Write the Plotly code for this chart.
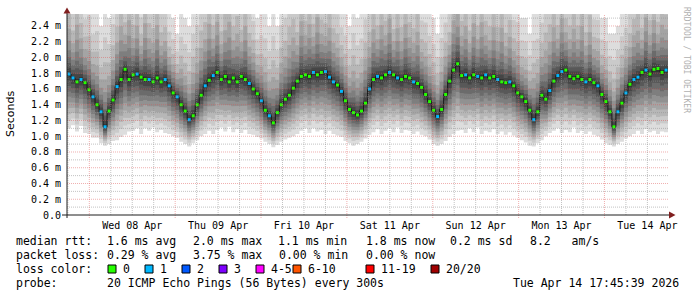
import plotly.graph_objects as go
from datetime import datetime, timedelta

# ---------------- data ----------------
END_TIME = datetime(2026, 4, 14, 17, 45, 39)
START_TIME = END_TIME - timedelta(days=7)

# median RTT per sample (ms), evenly spaced over the 7-day window
MEDIAN = [
    1.79, 1.74, 1.69, 1.72, 1.68, 1.59, 1.50, 1.40, 1.31, 1.12,
    1.32, 1.46, 1.63, 1.72, 1.85, 1.72, 1.78, 1.79, 1.75, 1.72,
    1.72, 1.69, 1.74, 1.69, 1.72, 1.64, 1.55, 1.50, 1.40, 1.32,
    1.21, 1.26, 1.40, 1.52, 1.64, 1.71, 1.77, 1.81, 1.72, 1.76,
    1.69, 1.74, 1.69, 1.76, 1.72, 1.67, 1.60, 1.54, 1.45, 1.33,
    1.26, 1.17, 1.30, 1.40, 1.47, 1.52, 1.61, 1.70, 1.76, 1.78,
    1.76, 1.81, 1.78, 1.81, 1.82, 1.75, 1.69, 1.65, 1.57, 1.45,
    1.34, 1.30, 1.27, 1.32, 1.42, 1.60, 1.72, 1.76, 1.74, 1.78,
    1.81, 1.78, 1.74, 1.72, 1.76, 1.74, 1.69, 1.67, 1.62, 1.53,
    1.44, 1.33, 1.25, 1.34, 1.53, 1.70, 1.84, 1.92, 1.77, 1.78,
    1.74, 1.78, 1.76, 1.74, 1.78, 1.74, 1.76, 1.72, 1.69, 1.68,
    1.69, 1.64, 1.55, 1.50, 1.44, 1.33, 1.21, 1.31, 1.52, 1.47,
    1.58, 1.70, 1.77, 1.82, 1.84, 1.76, 1.73, 1.76, 1.72, 1.69,
    1.72, 1.68, 1.64, 1.53, 1.44, 1.31, 1.12, 1.31, 1.42, 1.55,
    1.66, 1.72, 1.75, 1.81, 1.84, 1.79, 1.85, 1.86, 1.81, 1.84,
]

# lowest ping per sample (ms)
LOWEST = [
    1.10, 1.14, 1.06, 1.13, 1.04, 1.03, 0.98, 0.98, 0.91, 0.88,
    0.90, 0.94, 0.95, 0.99, 1.02, 1.06, 1.07, 1.10, 1.03, 1.10,
    1.07, 1.11, 1.05, 1.08, 1.04, 1.03, 1.00, 0.98, 0.93, 0.90,
    0.87, 0.91, 0.95, 1.00, 1.03, 1.07, 1.03, 1.08, 1.11, 1.06,
    1.12, 1.05, 1.09, 1.04, 1.08, 1.03, 1.02, 0.99, 0.97, 0.93,
    0.90, 0.86, 0.89, 0.93, 0.96, 0.98, 1.00, 1.03, 1.07, 1.10,
    1.04, 1.10, 1.06, 1.08, 1.03, 1.07, 1.03, 1.01, 0.99, 0.94,
    0.91, 0.88, 0.90, 0.93, 0.97, 1.02, 1.05, 1.09, 1.03, 1.07,
    1.10, 1.05, 1.11, 1.04, 1.08, 1.07, 1.03, 1.06, 1.02, 1.00,
    0.96, 0.90, 0.88, 0.90, 0.94, 0.99, 1.03, 1.07, 1.08, 1.04,
    1.10, 1.05, 1.11, 1.03, 1.07, 1.05, 1.09, 1.03, 1.06, 1.02,
    1.05, 1.01, 0.98, 0.95, 0.92, 0.88, 0.87, 0.91, 0.95, 1.00,
    1.04, 1.07, 1.10, 1.04, 1.08, 1.05, 1.11, 1.04, 1.07, 1.03,
    1.06, 1.02, 1.00, 0.96, 0.91, 0.89, 0.87, 0.90, 0.93, 0.97,
    1.00, 1.03, 1.07, 1.03, 1.09, 1.05, 1.07, 1.03, 1.06, 1.05,
]

# highest ping per sample (ms), mostly beyond the top of the graph
HIGHEST = [
    3.3, 2.9, 3.6, 3.1, 2.8, 2.9, 2.6, 2.7, 2.4, 2.7,
    2.5, 2.8, 3.1, 3.5, 3.0, 3.7, 3.0, 3.4, 2.8, 3.6,
    3.1, 3.0, 3.5, 2.9, 3.0, 2.6, 2.5, 2.3, 2.6, 2.5,
    2.4, 2.7, 2.8, 3.1, 3.2, 3.6, 3.0, 3.5, 2.9, 3.3,
    3.7, 3.0, 3.3, 2.9, 3.5, 2.9, 2.8, 2.5, 2.6, 2.6,
    2.4, 2.7, 2.4, 2.8, 2.9, 3.2, 3.3, 2.9, 3.6, 3.1,
    3.5, 3.0, 3.7, 3.1, 3.0, 3.4, 3.0, 2.9, 2.7, 2.6,
    2.4, 2.7, 2.5, 2.6, 2.9, 3.0, 3.4, 3.0, 3.5, 3.1,
    3.6, 2.9, 3.4, 3.0, 3.5, 3.1, 3.0, 3.4, 2.8, 2.8,
    2.6, 2.5, 2.3, 2.6, 2.8, 2.9, 3.5, 3.6, 3.1, 3.4,
    2.9, 3.5, 3.0, 3.6, 3.1, 3.0, 3.4, 3.0, 3.5, 2.9,
    3.2, 2.8, 2.8, 2.5, 2.5, 2.3, 2.6, 2.6, 2.8, 3.1,
    3.2, 3.5, 3.0, 3.6, 3.1, 3.0, 3.4, 3.0, 3.5, 2.9,
    3.3, 2.8, 2.8, 2.5, 2.5, 2.3, 2.3, 2.4, 2.6, 2.7,
    2.9, 3.2, 3.3, 2.9, 3.6, 3.1, 3.5, 3.0, 3.4, 3.2,
]

# lost pings per sample (out of 20)
LOSS = [
    1, 1, 0, 1, 0, 0, 1, 0, 1, 1,
    0, 0, 1, 0, 0, 0, 0, 1, 0, 0,
    1, 0, 0, 0, 1, 1, 0, 1, 0, 0,
    1, 0, 0, 0, 1, 0, 1, 0, 0, 0,
    0, 0, 0, 0, 0, 1, 0, 0, 1, 0,
    1, 0, 0, 0, 0, 0, 0, 0, 0, 0,
    0, 1, 0, 0, 1, 1, 1, 0, 1, 0,
    0, 0, 0, 0, 0, 1, 0, 1, 0, 0,
    1, 0, 1, 0, 0, 0, 1, 0, 0, 0,
    0, 0, 1, 0, 0, 0, 0, 0, 0, 1,
    0, 0, 1, 0, 1, 0, 0, 1, 0, 0,
    1, 0, 0, 0, 0, 0, 1, 0, 0, 0,
    1, 0, 1, 1, 0, 0, 0, 0, 0, 1,
    0, 0, 1, 0, 0, 0, 0, 1, 0, 1,
    0, 1, 1, 0, 1, 0, 0, 0, 0, 1,
]

Y_TICKS = [0.0, 0.2, 0.4, 0.6, 0.8, 1.0, 1.2, 1.4, 1.6, 1.8, 2.0, 2.2, 2.4]
Y_TICK_TEXT = ["0.0", "0.2 m", "0.4 m", "0.6 m", "0.8 m", "1.0 m", "1.2 m",
               "1.4 m", "1.6 m", "1.8 m", "2.0 m", "2.2 m", "2.4 m"]
X_TICK_TEXT = ["Wed 08 Apr", "Thu 09 Apr", "Fri 10 Apr", "Sat 11 Apr",
               "Sun 12 Apr", "Mon 13 Apr", "Tue 14 Apr"]

LEGEND_ROWS = [
    [("median rtt:", 16), ("1.6 ms avg", 107), ("2.0 ms max", 193),
     ("1.1 ms min", 278), ("1.8 ms now", 366), ("0.2 ms sd", 450), ("8.2   am/s", 530)],
    [("packet loss:", 16), ("0.29 % avg", 107), ("3.75 % max", 193),
     ("0.00 % min", 279), ("0.00 % now", 366)],
    [("loss color:", 16)],
    [("probe:", 16), ("20 ICMP Echo Pings (56 Bytes) every 300s", 107),
     ("Tue Apr 14 17:45:39 2026", 513)],
]
LOSS_LEGEND = [("0", "#26ff00"), ("1", "#00b8ff"), ("2", "#0059ff"), ("3", "#7e00ff"),
               ("4-5", "#ff00ff"), ("6-10", "#ff5500"), ("11-19", "#ff0000"), ("20/20", "#a00000")]
LOSS_BOX_X = [108, 145, 182, 219, 256, 293, 366, 431]
LOSS_LABEL_X = [123, 160, 197, 234, 271, 308, 381, 446]

# ---------------- style ----------------
W, H = 697, 297
PL, PR, PT, PB = 67, 668, 14, 215       # plot area in pixels
Y_TOP = 2.552
MONO = "DejaVu Sans Mono"
TXT = 11.5
ANN_SHIFT = -2   # compensate annotation inner padding

# smoke shading profile (SmokePing style: 10 gray layers, dark near the median)
LOW_FRAC = [1.0, 0.86, 0.74, 0.63, 0.52, 0.42, 0.32, 0.22, 0.13, 0.05]
HIGH_FRAC = [1.0, 0.72, 0.52, 0.38, 0.28, 0.20, 0.14, 0.09, 0.05, 0.02]
GRAYS = [int(190 / 10 * (10 - i)) + 50 for i in range(1, 11)]

MINOR_GRID = "rgba(143,143,143,0.55)"
MAJOR_GRID = "rgba(222,79,79,0.45)"


def px(x):
    return (x - PL) / (PR - PL)


def py(y):
    return (PB - y) / (PB - PT)


n = len(MEDIAN)
assert len(LOWEST) == n and len(HIGHEST) == n and len(LOSS) == n
step = (END_TIME - START_TIME) / n
edges = [START_TIME + step * i for i in range(n + 1)]
centers = [START_TIME + step * (i + 0.5) for i in range(n)]

fig = go.Figure()

for k in range(10):
    xs, ys = [], []
    tops = [m + (h - m) * HIGH_FRAC[k] for m, h in zip(MEDIAN, HIGHEST)]
    bots = [m - (m - l) * LOW_FRAC[k] for m, l in zip(MEDIAN, LOWEST)]
    for i in range(n):
        xs += [edges[i], edges[i + 1]]
        ys += [tops[i], tops[i]]
    for i in range(n - 1, -1, -1):
        xs += [edges[i + 1], edges[i]]
        ys += [bots[i], bots[i]]
    g = GRAYS[k]
    fig.add_trace(go.Scatter(
        x=xs, y=ys, mode="lines", fill="toself",
        fillcolor=f"rgb({g},{g},{g})", line=dict(width=0),
        hoverinfo="skip", showlegend=False))

fig.add_trace(go.Scatter(
    x=centers, y=MEDIAN, mode="lines", line_shape="hvh",
    line=dict(color="#1a1a1a", width=1), hoverinfo="skip", showlegend=False))

loss_colors = [LOSS_LEGEND[min(v, 1)][1] for v in LOSS]
fig.add_trace(go.Scatter(
    x=centers, y=MEDIAN, mode="markers",
    marker=dict(symbol="square", size=3, color=loss_colors, line=dict(width=0)),
    showlegend=False))

shapes = []
# horizontal grid
for j in range(1, 26):
    v = j / 10
    if v > Y_TOP:
        break
    shapes.append(dict(
        type="line", xref="paper", yref="y", x0=0, x1=1, y0=v, y1=v, layer="above",
        line=dict(color=MAJOR_GRID if j % 2 == 0 else MINOR_GRID, width=1, dash="1px,1px")))
# vertical grid (6 h minor, midnight major)
t = datetime(2026, 4, 7, 18, 0, 0)
while t < END_TIME:
    major = (t.hour == 0)
    shapes.append(dict(
        type="line", xref="x", yref="paper", x0=t, x1=t,
        y0=py(218) if major else 0, y1=1, layer="above",
        line=dict(color=MAJOR_GRID if major else MINOR_GRID, width=1, dash="1px,1px")))
    t += timedelta(hours=6)

# axes
shapes.append(dict(type="line", xref="paper", yref="paper", x0=px(62), x1=px(672),
                   y0=0, y1=0, line=dict(color="#1f1f1f", width=1), layer="above"))
shapes.append(dict(type="line", xref="paper", yref="paper", x0=0, x1=0,
                   y0=py(218), y1=py(11), line=dict(color="#1f1f1f", width=1), layer="above"))
# arrows
shapes.append(dict(type="path", xref="paper", yref="paper", layer="above",
                   path=f"M {px(63.5)} {py(13.5)} L {px(70.5)} {py(13.5)} L {px(67)} {py(7.5)} Z",
                   fillcolor="#801f1f", line=dict(width=0)))
shapes.append(dict(type="path", xref="paper", yref="paper", layer="above",
                   path=f"M {px(669)} {py(211.5)} L {px(669)} {py(218.5)} L {px(675.5)} {py(215)} Z",
                   fillcolor="#801f1f", line=dict(width=0)))

# loss colour boxes
for (lab, col), bx in zip(LOSS_LEGEND, LOSS_BOX_X):
    shapes.append(dict(type="rect", xref="paper", yref="paper",
                       x0=px(bx), x1=px(bx + 8), y0=py(273), y1=py(265),
                       fillcolor=col, line=dict(color="#000000", width=1)))

annotations = []
row_y = [241, 255, 269, 283]
for row, yy in zip(LEGEND_ROWS, row_y):
    for text, xx in row:
        annotations.append(dict(
            text=text, xref="paper", yref="paper", x=px(xx + ANN_SHIFT), y=py(yy),
            xanchor="left", yanchor="middle", showarrow=False,
            font=dict(family=MONO, size=TXT, color="#000000")))
for (lab, col), lx in zip(LOSS_LEGEND, LOSS_LABEL_X):
    annotations.append(dict(
        text=lab, xref="paper", yref="paper", x=px(lx + ANN_SHIFT), y=py(269),
        xanchor="left", yanchor="middle", showarrow=False,
        font=dict(family=MONO, size=TXT, color="#000000")))
annotations.append(dict(
    text="Seconds", xref="paper", yref="paper", x=px(11), y=py(114),
    xanchor="center", yanchor="middle", textangle=-90, showarrow=False,
    font=dict(family="DejaVu Sans", size=11, color="#000000")))
annotations.append(dict(
    text="RRDTOOL / TOBI OETIKER", xref="paper", yref="paper", x=px(687), y=py(5),
    xanchor="center", yanchor="top", textangle=90, showarrow=False,
    font=dict(family=MONO, size=8, color="#b0b0b0")))

noon_ticks = [datetime(2026, 4, 8 + d, 12, 0, 0) for d in range(len(X_TICK_TEXT))]

fig.update_layout(
    width=W, height=H,
    margin=dict(l=PL, r=W - PR, t=PT, b=H - PB, pad=0),
    paper_bgcolor="#ffffff", plot_bgcolor="#ffffff",
    showlegend=False,
    shapes=shapes, annotations=annotations,
    xaxis=dict(type="date", range=[START_TIME, END_TIME], showgrid=False, zeroline=False,
               showline=False, ticks="", tickvals=noon_ticks, ticktext=X_TICK_TEXT,
               tickfont=dict(family=MONO, size=10, color="#000000"), ticklabelstandoff=3,
               fixedrange=True),
    yaxis=dict(range=[0, Y_TOP], showgrid=False, zeroline=False, showline=False,
               ticks="", tickvals=Y_TICKS, ticktext=Y_TICK_TEXT,
               tickfont=dict(family=MONO, size=10, color="#000000"), ticklabelstandoff=5,
               fixedrange=True),
)

fig.write_html("out.html", config={"displayModeBar": False})
